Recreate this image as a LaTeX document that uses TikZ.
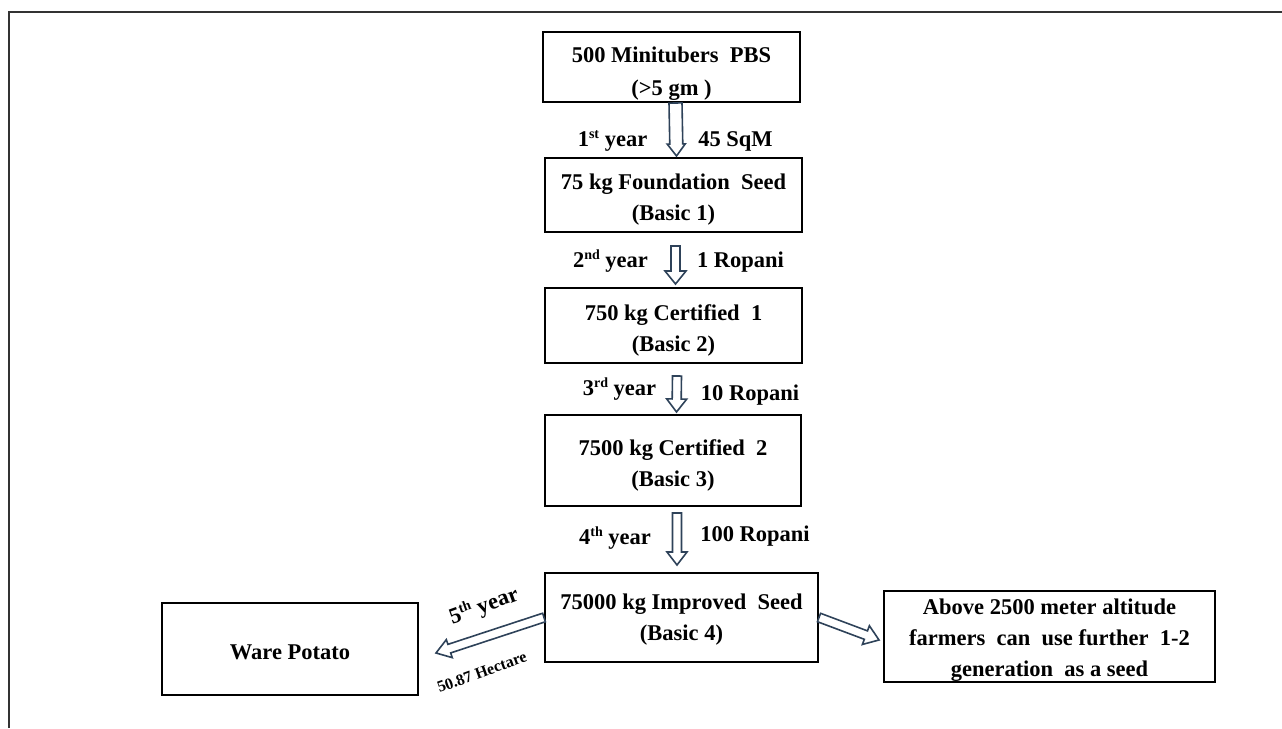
\documentclass[tikz,border=0pt]{standalone}
\usepackage{fontspec}
\setmainfont{Liberation Serif}
\usetikzlibrary{calc}
\definecolor{arrowc}{HTML}{2E4259}
\definecolor{framec}{HTML}{333333}
\newcommand\sups[1]{\raisebox{0.75ex}{\fontsize{14}{14}\selectfont #1}}
\newcommand\fs[1]{\rule{0pt}{#1pt}}
% #1 shaft half-width, #2 head half-width, #3 head length, #4 from, #5 to
\newcommand\hollowarrow[5]{%
  \draw[arrowline] let \p1=(#4), \p2=(#5),
      \n1={atan2(\y2-\y1,\x2-\x1)}, \n2={veclen(\x2-\x1,\y2-\y1)},
      \n3={\n2-#3pt} in
    ([shift={(\p1)},rotate=\n1]0pt,-#1pt)
    -- ([shift={(\p1)},rotate=\n1]\n3,-#1pt)
    -- ([shift={(\p1)},rotate=\n1]\n3,-#2pt)
    -- ([shift={(\p1)},rotate=\n1]\n2,0pt)
    -- ([shift={(\p1)},rotate=\n1]\n3,#2pt)
    -- ([shift={(\p1)},rotate=\n1]\n3,#1pt)
    -- ([shift={(\p1)},rotate=\n1]0pt,#1pt) -- cycle;}
\begin{document}
\begin{tikzpicture}[x=1pt,y=-1pt,
  font=\bfseries\fontsize{22.5}{31}\selectfont,
  box/.style={draw=black, line width=2pt, inner sep=0pt, align=center},
  lbl/.style={anchor=base, inner sep=0pt},
  arrowline/.style={draw=arrowc, fill=white, line width=1.6pt, line join=miter}]
\useasboundingbox (0,0) rectangle (1282,728);
% outer frame (cropped)
\draw[framec, line width=2pt] (9,728) -- (9,12) -- (1282,12);
% boxes
\node[box, minimum width=257pt, minimum height=70pt, font=\bfseries\fontsize{22.5}{33}\selectfont] (b1) at (671.5,67) {\fs{29}500 Minitubers\ \ PBS\\(>5 gm\ )};
\node[box, minimum width=257pt, minimum height=74pt] (b2) at (673.5,195) {\fs{25}75 kg Foundation\ \ Seed\\(Basic 1)};
\node[box, minimum width=257pt, minimum height=75pt] (b3) at (673.5,325.5) {\fs{26}750 kg Certified\ \ 1\\(Basic 2)};
\node[box, minimum width=256pt, minimum height=91pt] (b4) at (673,460.5) {\fs{25}7500 kg Certified\ \ 2\\(Basic 3)};
\node[box, minimum width=273pt, minimum height=89pt] (b5) at (681.5,617.5) {\fs{20}75000 kg Improved\ \ Seed\\(Basic 4)};
\node[box, minimum width=256pt, minimum height=92pt] (ware) at (290,649) {\fs{21}Ware Potato};
\node[box, minimum width=331pt, minimum height=91pt] (rbox) at (1049.5,636.5) {\fs{23}Above 2500 meter altitude\\farmers\ \ can\ \ use further\ \ 1-2\\generation\ \ as a seed};
% labels
\node[lbl] (l1) at (612.5,146) {1\sups{st} year};
\node[lbl] (r1) at (735.5,146) {45 SqM};
\node[lbl] (l2) at (610.5,267) {2\sups{nd} year};
\node[lbl] (r2) at (740.5,267) {1 Ropani};
\node[lbl] (l3) at (619.5,395) {3\sups{rd} year};
\node[lbl] (r3) at (750,400) {10 Ropani};
\node[lbl] (l4) at (615,544) {4\sups{th} year};
\node[lbl] (r4) at (755,541) {100 Ropani};
\node[inner sep=0pt, rotate=20] (l5) at (484,606) {5\sups{th} year};
\node[inner sep=0pt, rotate=20, font=\bfseries\fontsize{16}{18}\selectfont] (r5) at (482,672) {50.87 Hectare};
% arrows
\hollowarrow{6.5}{9}{12}{[xshift=4pt]b1.south}{[xshift=3pt,yshift=1pt]b2.north}
\hollowarrow{4.5}{10.5}{13}{[xshift=2pt,yshift=-13pt]b2.south}{[xshift=2pt,yshift=3pt]b3.north}
\hollowarrow{4.5}{10}{13}{[xshift=3.5pt,yshift=-12pt]b3.south}{[xshift=3.5pt,yshift=2pt]b4.north}
\hollowarrow{4.5}{10}{13}{[xshift=4pt,yshift=-6pt]b4.south}{[xshift=-4.5pt,yshift=7pt]b5.north}
\hollowarrow{4.5}{9.5}{14}{b5.west}{[xshift=17pt,yshift=-4pt]ware.east}
\hollowarrow{4.5}{10}{14}{b5.east}{[xshift=-4pt,yshift=-3.5pt]rbox.west}
\end{tikzpicture}
\end{document}
